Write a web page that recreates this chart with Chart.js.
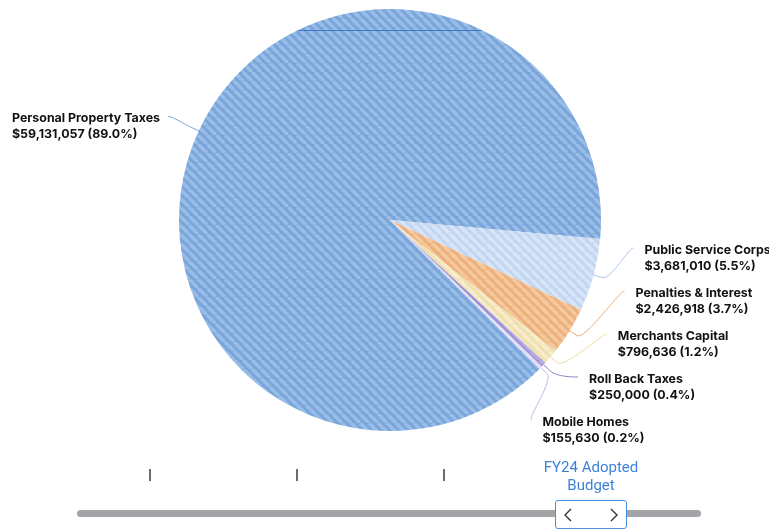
<!DOCTYPE html>
<html>
<head>
<meta charset="utf-8">
<script src="https://cdn.jsdelivr.net/npm/chart.js@4.4.1/dist/chart.umd.min.js"></script>
<style>
  html, body { margin: 0; padding: 0; background: #fff; }
  #wrap { position: relative; width: 769px; height: 529px; overflow: hidden; }
  #revenueChart { position: absolute; left: 0; top: 0; }
  .tick { position: absolute; top: 469px; width: 2px; height: 12px; background: #6b6b6b; }
  #periodLabel { position: absolute; left: 521px; top: 458px; width: 140px; text-align: center;
    font-family: Roboto, sans-serif; font-size: 15px; line-height: 18px; color: #3f83d8; }
  #track { position: absolute; left: 77px; top: 510px; width: 624px; height: 7px; border-radius: 4px; background: #a2a4a7; }
  #handle { position: absolute; left: 555px; top: 500px; width: 70px; height: 27px; background: #fff;
    border: 1px solid #4a8fe0; border-radius: 3px; }
  #handle svg { position: absolute; top: 7px; }
</style>
</head>
<body>
<div id="wrap">
  <canvas id="revenueChart" width="769" height="529"></canvas>
  <div id="timeline"></div>
  <div id="periodLabel"></div>
  <div id="track"></div>
  <div id="handle">
    <svg style="left:7px" width="10" height="14"><polyline points="8,1 2,7 8,13" fill="none" stroke="#333" stroke-width="1.4"/></svg>
    <svg style="left:53px" width="10" height="14"><polyline points="2,1 8,7 2,13" fill="none" stroke="#333" stroke-width="1.4"/></svg>
  </div>
</div>
<script>
const categories = ['Personal Property Taxes', 'Public Service Corps', 'Penalties & Interest', 'Merchants Capital', 'Roll Back Taxes', 'Mobile Homes'];
const amounts = [59131057, 3681010, 2426918, 796636, 250000, 155630];
const baseColors = ['#79a5da', '#c2d5f1', '#edb07a', '#efe0ae', '#9d93d5', '#dccdee'];
const stripeColors = ['#99bde7', '#d8e5f7', '#f5c9a0', '#f7eccd', '#b6aee3', '#ebe1f6'];
const lineColors = ['#7aa6dc', '#a9c4ea', '#e9ae78', '#eedba6', '#8c84cc', '#c8b6e5'];
const periodTicks = 3;
const activePeriod = 'FY24 Adopted Budget';

const total = amounts.reduce((a, b) => a + b, 0);
const percents = amounts.map(v => (v / total * 100).toFixed(1) + '%');
const money = v => '$' + v.toLocaleString('en-US');

// diagonal striped fill for every slice
function stripes(base, stripe) {
    const size = 9;
    const c = document.createElement('canvas');
    c.width = size; c.height = size;
    const g = c.getContext('2d');
    g.fillStyle = base;
    g.fillRect(0, 0, size, size);
    g.strokeStyle = stripe;
    g.lineWidth = 3.5;
    for (let x = -size; x <= size; x += size) {
        g.beginPath();
        g.moveTo(x, 0);
        g.lineTo(x + size, size);
        g.stroke();
    }
    return g.createPattern(c, 'repeat');
}

// timeline below the pie
(function buildTimeline() {
    const tl = document.getElementById('timeline');
    for (let i = 0; i < periodTicks; i++) {
        const t = document.createElement('div');
        t.className = 'tick';
        t.style.left = (149 + i * 147) + 'px';
        tl.appendChild(t);
    }
    const words = activePeriod.split(' ');
    document.getElementById('periodLabel').innerHTML = words.slice(0, 2).join(' ') + '<br>' + words.slice(2).join(' ');
})();

const sliceLabels = {
    id: 'sliceLabels',
    afterDatasetsDraw(chart) {
        const ctx = chart.ctx;
        const arcs = chart.getDatasetMeta(0).data;
        if (!arcs.length) return;
        const cx = arcs[0].x, cy = arcs[0].y, r = arcs[0].outerRadius;
        const labelR = r + 34;
        const gap = 43;
        const bottomLimit = chart.chartArea.bottom - 11;
        const topLimit = chart.chartArea.top + 10;

        // thin rule across the top of the pie
        const dy0 = 190;
        const half = Math.sqrt(r * r - dy0 * dy0);
        ctx.save();
        ctx.strokeStyle = '#3f78c4';
        ctx.lineWidth = 1;
        ctx.beginPath();
        ctx.moveTo(cx - half, cy - dy0 + 0.5);
        ctx.lineTo(cx + half, cy - dy0 + 0.5);
        ctx.stroke();
        ctx.restore();

        const items = arcs.map((arc, i) => {
            const mid = (arc.startAngle + arc.endAngle) / 2;
            return { i, mid, right: Math.cos(mid) >= 0, y: cy + labelR * Math.sin(mid) };
        });
        [true, false].forEach(side => {
            const list = items.filter(it => it.right === side).sort((a, b) => a.y - b.y);
            for (let k = 1; k < list.length; k++) list[k].y = Math.max(list[k].y, list[k - 1].y + gap);
            for (let k = list.length - 1; k >= 0; k--) {
                const lim = k === list.length - 1 ? bottomLimit : list[k + 1].y - gap;
                list[k].y = Math.min(list[k].y, lim);
            }
            for (let k = 0; k < list.length; k++) {
                const lim = k === 0 ? topLimit : list[k - 1].y + gap;
                list[k].y = Math.max(list[k].y, lim);
            }
        });

        ctx.save();
        ctx.font = 'bold 12.4px Inter, sans-serif';
        items.forEach(it => {
            const dy = Math.min(Math.abs(it.y - cy), labelR);
            const dx = Math.sqrt(labelR * labelR - dy * dy);
            const lx = it.right ? cx + dx : cx - dx;
            const ly = it.y;
            const tx = cx + r * Math.cos(it.mid), ty = cy + r * Math.sin(it.mid);
            const bx = cx + (r + 9) * Math.cos(it.mid), by = cy + (r + 9) * Math.sin(it.mid);

            ctx.strokeStyle = lineColors[it.i];
            ctx.lineWidth = 1;
            ctx.beginPath();
            ctx.moveTo(lx, ly);
            ctx.bezierCurveTo(lx + (it.right ? -5 : 5), ly, 2 * bx - tx, 2 * by - ty, bx, by);
            ctx.lineTo(tx, ty);
            ctx.stroke();

            const line1 = categories[it.i];
            const line2 = money(amounts[it.i]) + ' (' + percents[it.i] + ')';
            const w = Math.max(ctx.measureText(line1).width, ctx.measureText(line2).width);
            const textX = it.right ? lx + 11 : lx - 8 - w;
            ctx.fillStyle = '#111';
            ctx.textBaseline = 'middle';
            ctx.textAlign = 'left';
            ctx.fillText(line1, textX, ly + 2);
            ctx.fillText(line2, textX, ly + 18);
        });
        ctx.restore();
    }
};

new Chart(document.getElementById('revenueChart'), {
    type: 'pie',
    data: {
        labels: categories,
        datasets: [{
            data: amounts,
            backgroundColor: baseColors.map((c, i) => stripes(c, stripeColors[i])),
            borderWidth: 0
        }]
    },
    options: {
        responsive: false,
        animation: false,
        rotation: 134.8,
        layout: { padding: { left: 179, right: 168, top: 9, bottom: 98 } },
        events: [],
        plugins: {
            legend: { display: false },
            tooltip: { enabled: false },
            title: { display: false }
        }
    },
    plugins: [sliceLabels]
});
</script>
</body>
</html>
